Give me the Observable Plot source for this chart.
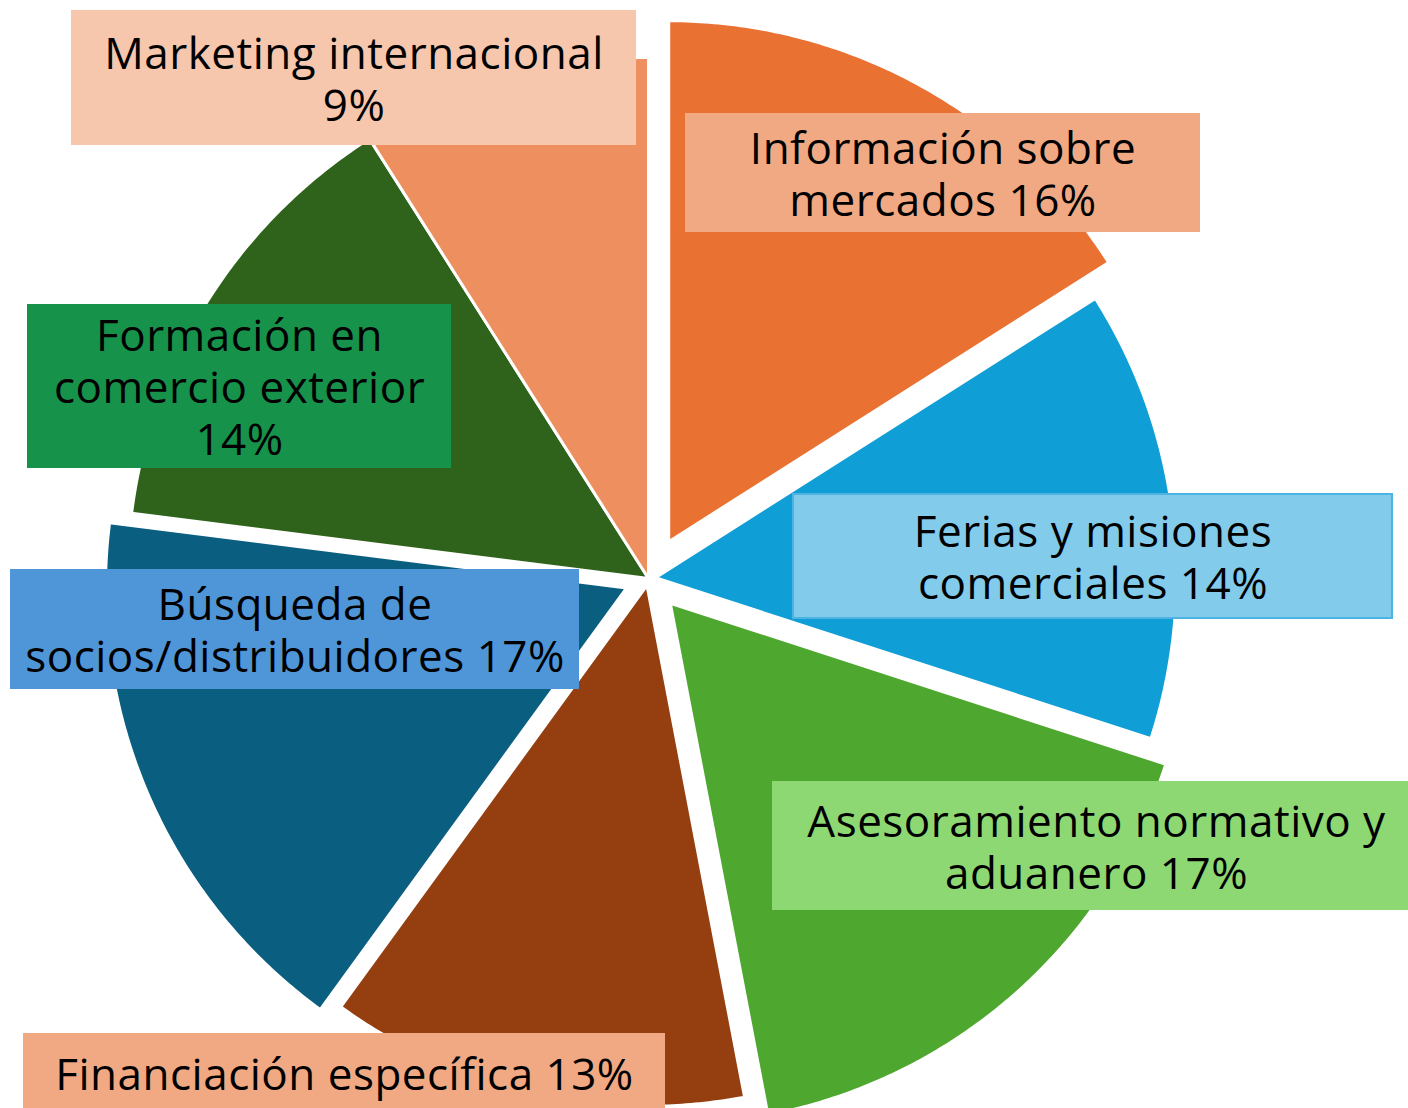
<!DOCTYPE html>
<html>
<head>
<meta charset="utf-8">
<script src="https://cdn.jsdelivr.net/npm/d3@7"></script>
<script src="https://cdn.jsdelivr.net/npm/@observablehq/plot@0.6"></script>
<style>
  html, body { margin: 0; padding: 0; background: #fff; overflow: hidden; }
  #chart { width: 1408px; height: 1108px; overflow: hidden; }
  #chart text { letter-spacing: 0.5px; }
</style>
</head>
<body>
<div id="chart"></div>
<script>
// ---- data ----
const categories = [
  "Información sobre mercados",
  "Ferias y misiones comerciales",
  "Asesoramiento normativo y aduanero",
  "Financiación específica",
  "Búsqueda de socios/distribuidores",
  "Formación en comercio exterior",
  "Marketing internacional"
];
const shares = [16, 14, 17, 13, 17, 14, 9];
const labelTemplates = [
  "Información sobre\nmercados {p}",
  "Ferias y misiones\ncomerciales {p}",
  "Asesoramiento normativo y\naduanero {p}",
  "Financiación específica {p}",
  "Búsqueda de\nsocios/distribuidores {p}",
  "Formación en\ncomercio exterior\n{p}",
  "Marketing internacional\n{p}"
];

// ---- styles / layout ----
const sliceColors = ["#E97132", "#0F9ED5", "#4EA72E", "#953F10", "#0A5F80", "#2F631C", "#ED8F5F"];
const boxColors   = ["#F1A983", "#83CBEB", "#8ED873", "#F1A983", "#4F96D9", "#17924B", "#F6C6AD"];
const boxStrokes  = [null, "#4DB3E2", null, null, null, null, null];
const explode     = [42, 7, 33, 7, 24, 0, 0];           // px pulled out from centre
const labelBoxes  = [                                    // [x1, x2, y1, y2] in px
  [685, 1200, 113, 232],
  [793, 1392, 494, 618],
  [772, 1420, 781, 910],
  [23, 665, 1033, 1113],
  [10, 579, 569, 689],
  [27, 451, 304, 468],
  [71, 636, 10, 145]
];
const W = 1408, H = 1108;
const CX = 648, CY = 578, R = 521;

// ---- geometry built from the data ----
const total = d3.sum(shares);
const slices = [];
let acc = 0;
categories.forEach((c, i) => {
  const a0 = acc / total * 2 * Math.PI;
  acc += shares[i];
  const a1 = acc / total * 2 * Math.PI;
  const mid = (a0 + a1) / 2;
  const ox = CX + explode[i] * Math.sin(mid);
  const oy = CY - explode[i] * Math.cos(mid);
  slices.push({cat: c, i, x: ox, y: oy});
  const steps = Math.max(2, Math.ceil((a1 - a0) / (Math.PI / 360)));
  for (let s = 0; s <= steps; s++) {
    const a = a0 + (a1 - a0) * s / steps;
    slices.push({cat: c, i, x: ox + R * Math.sin(a), y: oy - R * Math.cos(a)});
  }
});

const labels = categories.map((c, i) => {
  const [x1, x2, y1, y2] = labelBoxes[i];
  return {
    cat: c, i, x1, x2, y1, y2,
    cx: (x1 + x2) / 2, cy: (y1 + y2) / 2,
    text: labelTemplates[i].replace("{p}", shares[i] + "%"),
    fill: boxColors[i], stroke: boxStrokes[i]
  };
});

const chart = Plot.plot({
  width: W,
  height: H,
  margin: 0,
  style: {background: "#ffffff", overflow: "hidden"},
  x: {domain: [0, W], range: [0, W], axis: null},
  y: {domain: [0, H], range: [0, H], axis: null},
  color: {domain: categories, range: sliceColors},
  marks: [
    Plot.line(slices, {
      x: "x", y: "y", z: "cat",
      fill: "cat",
      stroke: "#ffffff", strokeWidth: 3,
      curve: "linear-closed",
      clip: true
    }),
    Plot.rect(labels, {
      x1: "x1", x2: "x2", y1: "y1", y2: "y2",
      fill: d => d.fill,
      stroke: d => d.stroke || "none",
      strokeWidth: 2,
      clip: true
    }),
    Plot.text(labels, {
      x: "cx", y: "cy", text: "text",
      fill: "#000000",
      fontSize: 44,
      lineHeight: 1.18,
      fontFamily: "'Open Sans', 'Noto Sans', sans-serif",
      textAnchor: "middle",
      lineAnchor: "middle",
      clip: true
    })
  ]
});
document.getElementById("chart").appendChild(chart);
</script>
</body>
</html>
